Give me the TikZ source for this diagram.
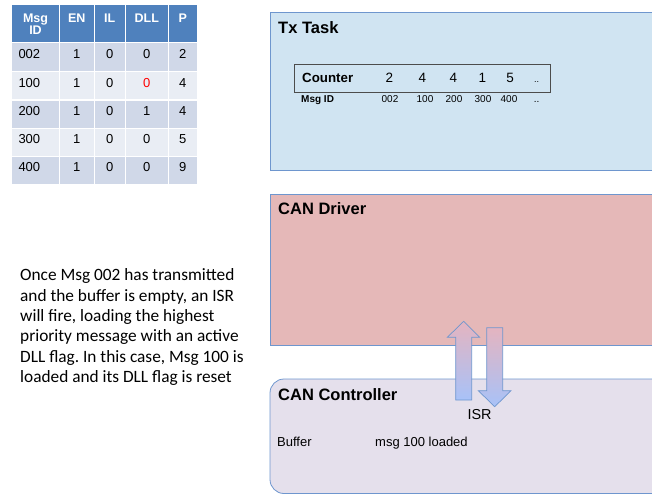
\documentclass[tikz,border=0pt]{standalone}
\usepackage{fontspec}
\setmainfont{Liberation Sans}
\newfontfamily\bodyfont{Carlito}
\frenchspacing
\definecolor{hdrblue}{RGB}{79,129,189}
\definecolor{rowdark}{RGB}{208,216,232}
\definecolor{rowlight}{RGB}{233,237,244}
\definecolor{txfill}{RGB}{208,228,242}
\definecolor{drvfill}{RGB}{229,184,184}
\definecolor{ctlfill}{RGB}{229,224,236}
\definecolor{edgeblue}{RGB}{110,150,206}
\definecolor{arrtop}{RGB}{228,180,192}
\definecolor{arrbot}{RGB}{168,194,248}
\tikzset{
  x=1pt, y=-1pt,
  hdr/.style={font=\fontsize{12.5}{13}\selectfont\bfseries, text=white, inner sep=0pt},
  cell/.style={font=\fontsize{13}{14}\selectfont, inner sep=0pt},
  layer/.style={draw=edgeblue, line width=0.8pt},
  title/.style={font=\fontsize{16.5}{18}\selectfont\bfseries, anchor=base west, inner sep=0pt},
  small/.style={font=\fontsize{10}{11}\selectfont, anchor=base, inner sep=0pt},
  big/.style={font=\fontsize{13.5}{15}\selectfont, anchor=base, inner sep=0pt},
  plain/.style={font=\fontsize{13}{14}\selectfont, anchor=base west, inner sep=0pt},
  fatarrow/.style={draw=edgeblue, line width=0.7pt, top color=arrtop, bottom color=arrbot},
}
\begin{document}
\begin{tikzpicture}
\useasboundingbox (0,0) rectangle (652,494);
\clip (0,0) rectangle (652,494);

% ---- flag table ----
\fill[hdrblue] (11.7,5) rectangle (197,42.7);
\foreach \top/\bot/\c in {42.7/71.7/rowdark,71.7/100/rowlight,100/128.7/rowdark,128.7/156.7/rowlight,156.7/184/rowdark}
  \fill[\c] (11.7,\top) rectangle (197,\bot);
\foreach \xx in {59.3,94.3,125.3,168.3}
  \draw[white, line width=1.5pt] (\xx,5) -- (\xx,184);
\foreach \yy in {42.7,71.7,100,128.7,156.7}
  \draw[white, line width=1.5pt] (11.7,\yy) -- (197,\yy);

\node[hdr, align=center, font=\fontsize{12.5}{12.5}\selectfont\bfseries] (hid) at (35.5,24) {Msg\\ID};
\node[hdr] (hen) at (76.8,18) {EN};
\node[hdr] (hil) at (109.8,18) {IL};
\node[hdr] (hdll) at (146.8,18) {DLL};
\node[hdr] (hp) at (182.7,18) {P};

\foreach \yy/\id/\en/\il/\dll/\p [count=\i] in
  {54/002/1/0/0/2, 82.7/100/1/0/0/4, 111/200/1/0/1/4, 139.3/300/1/0/0/5, 166.7/400/1/0/0/9} {
  \node[cell, anchor=west] (id\i) at (18.3,\yy) {\id};
  \node[cell] (en\i) at (76.8,\yy) {\en};
  \node[cell] (il\i) at (109.8,\yy) {\il};
  \ifnum\i=2
    \node[cell, text=red] (dll\i) at (146.8,\yy) {\dll};
  \else
    \node[cell] (dll\i) at (146.8,\yy) {\dll};
  \fi
  \node[cell] (p\i) at (182.7,\yy) {\p};
}

% ---- explanation ----
\node[anchor=north west, inner sep=0pt, align=left,
      font=\bodyfont\fontsize{17.3}{20.4}\selectfont] (note) at (20,268.5)
  {Once Msg 002 has transmitted\\
   and the buffer is empty, an ISR\\
   will fire, loading the highest\\
   priority message with an active\\
   DLL flag. In this case, Msg 100 is\\
   loaded and its DLL flag is reset};

% ---- Tx Task ----
\path[layer, fill=txfill] (270,12.3) rectangle (670,170);
\node[title] (tx) at (278,33.5) {Tx Task};
\node[draw=black!70, line width=0.8pt, fill=txfill, minimum width=256.4pt,
      minimum height=28.3pt, inner sep=0pt] (ctr) at (422.5,78.2) {};
\node[font=\fontsize{13.3}{14}\selectfont\bfseries, anchor=base west, inner sep=0pt]
  (ctrlbl) at (302,82.3) {Counter};
\foreach \xx/\v [count=\i] in {389.3/2,422.3/4,453.3/4,482.3/1,510/5}
  \node[big] (c\i) at (\xx,82.3) {\v};
\node[big, font=\fontsize{9}{10}\selectfont] (cdots) at (536.7,82.3) {..};
\node[font=\fontsize{10}{11}\selectfont\bfseries, anchor=base west, inner sep=0pt]
  (midlbl) at (301,103) {Msg ID};
\foreach \xx/\v [count=\i] in {390/002,425/100,454/200,483/300,509/400}
  \node[small] (m\i) at (\xx,103) {\v};
\node[small] (mdots) at (536.7,103) {..};

% ---- CAN Driver ----
\path[layer, fill=drvfill] (270,194) rectangle (670,345.7);
\node[title] (drv) at (278,214.5) {CAN Driver};

% ---- CAN Controller ----
\path[layer, fill=ctlfill, rounded corners=14pt] (270,379) rectangle (670,493.5);
\node[title] (ctl) at (278,400) {CAN Controller};
\node[big, font=\fontsize{14.4}{15}\selectfont] (isr) at (479.5,419.5) {ISR};
\node[plain] (buf) at (277,446) {Buffer};
\node[plain] (loaded) at (375,446) {msg 100 loaded};

% ---- ISR arrows between controller and driver ----
\path[fatarrow]
  (455.7,400) -- (455.7,337.3) -- (447.3,337.3) -- (463.7,321.3)
  -- (479.7,337.3) -- (471.7,337.3) -- (471.7,400) -- cycle;
\path[fatarrow]
  (486.7,327.7) -- (502.7,327.7) -- (502.7,390.7) -- (511,390.7)
  -- (494.7,406.7) -- (478.3,390.7) -- (486.7,390.7) -- cycle;
\end{tikzpicture}
\end{document}
